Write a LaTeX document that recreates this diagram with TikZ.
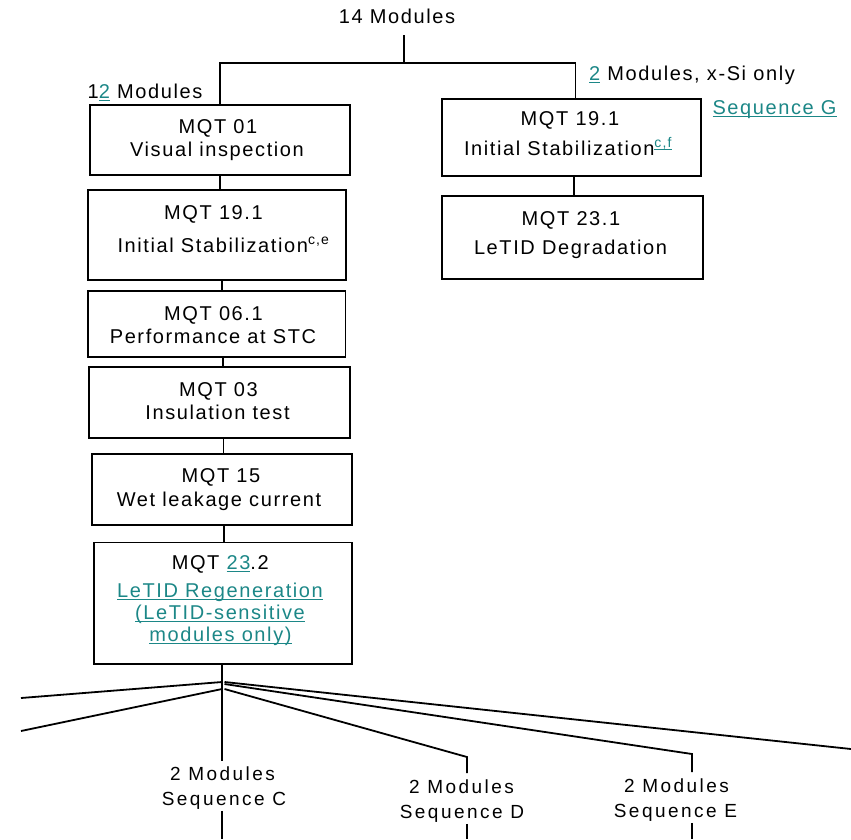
\documentclass[tikz,border=0pt]{standalone}
\usepackage{fontspec}
\setmainfont{Liberation Sans}
\newfontfamily\boxfont{Liberation Sans}[LetterSpace=8]
\newfontfamily\botfont{Liberation Sans}[LetterSpace=13]
\definecolor{lk}{RGB}{28,135,135}
\newcommand\lk[1]{\begingroup\color{lk}\setbox0\hbox{#1}\rlap{\rule[-2.8pt]{\wd0}{1.1pt}}\box0\endgroup}
\begin{document}
\begin{tikzpicture}[x=1pt,y=-1pt,
  box/.style={draw, line width=1.8pt, inner sep=0pt, outer sep=0pt},
  txt/.style={inner sep=0pt, outer sep=0pt, font=\boxfont\fontsize{20}{23}\selectfont, anchor=base},
  bot/.style={inner sep=0pt, outer sep=0pt, font=\botfont\fontsize{19}{25}\selectfont, anchor=base},
  con/.style={line width=1.8pt}]
\useasboundingbox (0,0) rectangle (851,839);
% boxes
\node[box, minimum width=259.7pt, minimum height=70.2pt] (b1) at (219.75,140) {};
\node[box, minimum width=258.2pt, minimum height=89.9pt] (b2) at (216.7,235.2) {};
\node[box, minimum width=257.7pt, minimum height=65.9pt] (b3) at (216.7,323.8) {};
\node[box, minimum width=260.6pt, minimum height=71.2pt] (b4) at (219.5,402.5) {};
\node[box, minimum width=259.9pt, minimum height=71.2pt] (b5) at (221.8,489.2) {};
\node[box, minimum width=258.2pt, minimum height=121.7pt] (b6) at (223,603.3) {};
\node[box, minimum width=258.9pt, minimum height=77.2pt] (rA) at (571.3,137.2) {};
\node[box, minimum width=261.2pt, minimum height=83.2pt] (rB) at (572.5,237.5) {};
% box texts
\node[txt] (l1a) at (218,133.5) {MQT 01};
\node[txt] (l1b) at (217,156.5) {Visual inspection};
\node[txt] (l2a) at (213.5,219.5) {MQT 19.1};
\node[txt] (l2b) at (223.5,252) {Initial Stabilization\textsuperscript{c,e}};
\node[txt] (l3a) at (213.5,320) {MQT 06.1};
\node[txt] (l3b) at (213,343) {Performance at STC};
\node[txt] (l4a) at (218.5,396) {MQT 03};
\node[txt] (l4b) at (217.5,419) {Insulation test};
\node[txt] (l5a) at (221,482.5) {MQT 15};
\node[txt] (l5b) at (219,506) {Wet leakage current};
\node[txt] (l6a) at (220.3,569.5) {MQT \lk{23}.2};
\node[txt] (l6b) at (220,597) {\lk{LeTID Regeneration}};
\node[txt] (l6c) at (220,619.5) {\lk{(LeTID-sensitive}};
\node[txt] (l6d) at (220.5,641) {\lk{modules only)}};
\node[txt] (rAa) at (570,125) {MQT 19.1};
\node[txt] (rAb) at (568,155) {Initial Stabilization\textsuperscript{\lk{c,f}}};
\node[txt] (rBa) at (571,225) {MQT 23.1};
\node[txt] (rBb) at (570.5,254) {LeTID Degradation};
% top labels
\node[txt] (t14) at (397,23.5) {14 Modules};
\node[txt] (t12) at (145,98) {1\lk{2} Modules};
\node[txt] (t2) at (692,80) {\lk{2} Modules, x-Si only};
\node[txt] (tG) at (774.5,114) {\lk{Sequence G}};
% bottom labels
\node[bot] (nCa) at (222.5,780) {2 Modules};
\node[bot] (nCb) at (224,805) {Sequence C};
\node[bot] (nDa) at (461.5,793) {2 Modules};
\node[bot] (nDb) at (462,818) {Sequence D};
\node[bot] (nEa) at (676.5,792) {2 Modules};
\node[bot] (nEb) at (675.5,817) {Sequence E};
% top tree
\coordinate (j) at (404,63);
\coordinate (t14s) at (404,35);
\path ([xshift=4.2pt]rA.north) coordinate (rAn);
\draw[con] (t14s) -- (j);
\draw[con] (b1.north) |- (j) -| (rAn);
% box chain
\path ([xshift=0.25pt]b1.south) coordinate (c12);
\path ([xshift=5.3pt]b2.south) coordinate (c23);
\path ([xshift=6.3pt]b3.south) coordinate (c34);
\path ([xshift=4pt]b4.south) coordinate (c45);
\path ([xshift=2.2pt]b5.south) coordinate (c56);
\path ([xshift=3pt]rA.south) coordinate (cAB);
\draw[con] (c12) -- (c12 |- b2.north);
\draw[con] (c23) -- (c23 |- b3.north);
\draw[con] (c34) -- (c34 |- b4.north);
\draw[con] (c45) -- (c45 |- b5.north);
\draw[con] (c56) -- (c56 |- b6.north);
\draw[con] (cAB) -- (cAB |- rB.north);
% fan
\coordinate (f1) at (222,682);
\coordinate (f2) at (222,689);
\coordinate (fR) at (224.5,682);
\coordinate (fE) at (224.5,684);
\coordinate (fD) at (224.5,689);
\coordinate (L1) at (21,698);
\coordinate (L2) at (21,731);
\coordinate (R1) at (851,749);
\coordinate (dT) at (467,757);
\coordinate (eT) at (692,754);
\coordinate (bot) at (0,839);
\path ([yshift=5pt]nCa.north) coordinate (cN);
\path ([yshift=-2pt]nCb.south) coordinate (cS);
\path ([yshift=6pt]nDa.north) coordinate (dN);
\path ([yshift=-2pt]nDb.south) coordinate (dS);
\path ([yshift=6pt]nEa.north) coordinate (eN);
\path ([yshift=-2pt]nEb.south) coordinate (eS);
\draw[con] (b6.south -| f1) -- (f1) -- (f1 |- cN);
\draw[con] (f1) -- (L1);
\draw[con] (f2) -- (L2);
\draw[con] (fR) -- (R1);
\draw[con] (fE) -- (eT) -- (eT |- eN);
\draw[con] (fD) -- (dT) -- (dT |- dN);
\draw[con] (f1 |- cS) -- (f1 |- bot);
\draw[con] (dT |- dS) -- (dT |- bot);
\draw[con] (eT |- eS) -- (eT |- bot);
\end{tikzpicture}
\end{document}
